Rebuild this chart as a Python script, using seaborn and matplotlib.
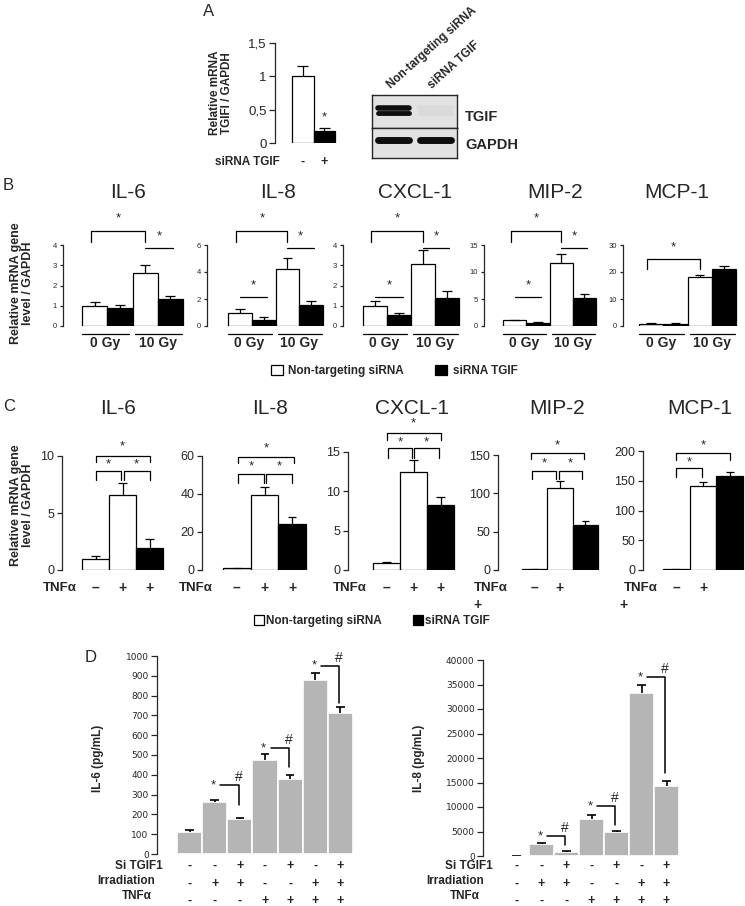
import numpy as np
import pandas as pd
import matplotlib
matplotlib.use("Agg")
import matplotlib.pyplot as plt
import seaborn as sns
from matplotlib import transforms
from matplotlib.patches import Patch

# ---------------- data ----------------
# Panel A
a_conditions = ["Non-targeting siRNA", "siRNA TGIF"]
a_signs = ["-", "+"]
a_values = [1.0, 0.18]
a_errors = [0.15, 0.05]
a_star_value = 0.39
a_yticks = [0, 0.5, 1.0, 1.5]
a_yticklabels = ["0", "0,5", "1", "1,5"]
blot_lanes = ["Non-targeting siRNA", "siRNA TGIF"]
blot_tgif = [1.0, 0.03]
blot_gapdh = [1.0, 1.0]

# Panel B (irradiation)
b_genes = ["IL-6", "IL-8", "CXCL-1", "MIP-2", "MCP-1"]
b_conditions = ["0 Gy / NT", "0 Gy / siTGIF", "10 Gy / NT", "10 Gy / siTGIF"]
b_doses = ["0 Gy", "10 Gy"]
b_il6 = [1.0, 0.9, 2.6, 1.35]
b_il6_err = [0.2, 0.12, 0.42, 0.12]
b_il8 = [0.95, 0.42, 4.25, 1.58]
b_il8_err = [0.3, 0.25, 0.8, 0.27]
b_cxcl1 = [1.0, 0.53, 3.04, 1.36]
b_cxcl1_err = [0.24, 0.12, 0.71, 0.36]
b_mip2 = [1.05, 0.62, 11.7, 5.15]
b_mip2_err = [0.1, 0.05, 1.6, 0.85]
b_mcp1 = [0.75, 0.8, 18.2, 21.2]
b_mcp1_err = [0.35, 0.2, 0.6, 1.0]
b_yticks = [[0, 1, 2, 3, 4], [0, 2, 4, 6], [0, 1, 2, 3, 4], [0, 5, 10, 15], [0, 10, 20, 30]]

# Panel C (TNFα)
c_genes = ["IL-6", "IL-8", "CXCL-1", "MIP-2", "MCP-1"]
c_conditions = ["TNFα- / NT", "TNFα+ / NT", "TNFα+ / siTGIF"]
c_tnf = ["–", "+", "+"]
c_il6 = [0.95, 6.6, 1.9]
c_il6_err = [0.3, 1.05, 0.8]
c_il8 = [1.0, 39.5, 24.2]
c_il8_err = [0.2, 4.2, 3.5]
c_cxcl1 = [0.9, 12.4, 8.3]
c_cxcl1_err = [0.15, 1.6, 1.0]
c_mip2 = [1.0, 106.5, 58.5]
c_mip2_err = [0.3, 9.5, 5.6]
c_mcp1 = [1.0, 142, 158]
c_mcp1_err = [0.5, 6, 7]
c_yticks = [[0, 5, 10], [0, 20, 40, 60], [0, 5, 10, 15], [0, 50, 100, 150], [0, 50, 100, 150, 200]]

# Panel D (secreted cytokines)
d_conditions = ["c1", "c2", "c3", "c4", "c5", "c6", "c7"]
d_si = ["-", "-", "+", "-", "+", "-", "+"]
d_irr = ["-", "+", "+", "-", "-", "+", "+"]
d_tnf = ["-", "-", "-", "+", "+", "+", "+"]
d_row_names = ["Si TGIF1", "Irradiation", "TNFα"]
d_il6 = [110, 265, 175, 475, 380, 880, 713]
d_il6_err = [12, 9, 8, 32, 19, 36, 27]
d_il8 = [0, 2400, 800, 7500, 4800, 33300, 14300]
d_il8_err = [0, 300, 300, 900, 250, 1600, 1000]
d_il6_yticks = list(range(0, 1001, 100))
d_il8_yticks = list(range(0, 40001, 5000))
d_pairs = [(1, 2), (3, 4), (5, 6)]
d_il6_line = [348, 535, 950]
d_il6_drop = [247, 440, 763]
d_il8_line = [4080, 10200, 36500]
d_il8_drop = [2250, 6350, 16900]

# ---------------- style ----------------
sns.set_style("ticks")
plt.rcParams["font.family"] = ["Liberation Sans", "DejaVu Sans"]
plt.rcParams["axes.unicode_minus"] = False

W, H = 745, 906
fig = plt.figure(figsize=(W / 100, H / 100), dpi=100)
fig.patch.set_facecolor("white")


def fx(x):
    return x / W


def fy(y):
    return 1 - y / H


def ftext(x, y, s, **kw):
    fig.text(fx(x), fy(y), s, **kw)


def make_axes(spine_x, bar_l, bar_r, n, y_top, y_bot, ymax, right_pad=0.15):
    unit = (bar_r - bar_l) / n
    ax = fig.add_axes([fx(spine_x), fy(y_bot), (bar_r + right_pad * unit - spine_x) / W,
                       (y_bot - y_top) / H])
    xlim = (-0.5 - (bar_l - spine_x) / unit, n - 0.5 + right_pad)
    return ax, xlim, (0, ymax)


def draw_bars(ax, conds, vals, errs, colors, edge, lw, cap, xlim, ylim, elw=0.9):
    df = pd.DataFrame({"condition": conds, "value": vals})
    sns.barplot(data=df, x="condition", y="value", hue="condition", order=conds,
                hue_order=conds, palette=dict(zip(conds, colors)), width=1.0,
                edgecolor=edge, linewidth=lw, errorbar=None, legend=False,
                saturation=1, ax=ax)
    x = np.arange(len(vals))
    v = np.asarray(vals, float)
    e = np.asarray(errs, float)
    ax.vlines(x, v, v + e, colors="black", linewidth=elw, zorder=3)
    ax.hlines(v + e, x - cap, x + cap, colors="black", linewidth=elw, zorder=3)
    ax.set_xlim(*xlim)
    ax.set_ylim(*ylim)


def style_ax(ax, yticks, labels=None, size=6, length=3, family=None):
    for s in ["top", "right", "bottom"]:
        ax.spines[s].set_visible(False)
    ax.spines["left"].set_linewidth(0.9)
    ax.set_xticks([])
    ax.set_xlabel("")
    ax.set_ylabel("")
    ax.set_yticks(yticks)
    lab = labels if labels is not None else [str(t) for t in yticks]
    kw = {"fontsize": size}
    if family:
        kw["family"] = family
    ax.set_yticklabels(lab, **kw)
    ax.tick_params(axis="y", direction="out", length=length, width=0.9, pad=2)
    ax.set_facecolor("none")


def bracket(ax, spec, star_fs=9.5):
    x0, x1, top, leg, star = spec
    tr = transforms.blended_transform_factory(ax.transData, ax.transAxes)
    ax.plot([x0, x0, x1, x1], [leg, top, top, leg], color="black", lw=0.9,
            transform=tr, clip_on=False)
    ax.text((x0 + x1) / 2, star, "*", transform=tr, ha="center", va="center",
            fontsize=star_fs)


def sig_line(ax, spec, star_fs=9.5):
    x0, x1, y, star = spec
    tr = transforms.blended_transform_factory(ax.transData, ax.transAxes)
    ax.plot([x0, x1], [y, y], color="black", lw=0.9, transform=tr, clip_on=False)
    ax.text((x0 + x1) / 2, star, "*", transform=tr, ha="center", va="center",
            fontsize=star_fs)


# ---------------- Panel A ----------------
ftext(209, 11, "A", fontsize=12, ha="center", va="center")
ax, xl, yl = make_axes(275, 292, 335, 2, 43, 143, 1.5)
draw_bars(ax, a_conditions, a_values, a_errors, ["white", "black"], "black", 0.9, 0.25, xl, yl)
style_ax(ax, a_yticks, a_yticklabels, size=9.5, length=4)
ax.text(1, a_star_value, "*", ha="center", va="center", fontsize=9.5)
ftext(221, 93, "Relative mRNA\nTGIFI / GAPDH", rotation=90, ha="center", va="center",
      fontsize=8.5, weight="bold", multialignment="center", linespacing=1.05)
ftext(280, 162, "siRNA TGIF", ha="right", va="center", fontsize=8.5, weight="bold")
trA = transforms.blended_transform_factory(ax.transData, fig.transFigure)
for i, s in enumerate(a_signs):
    ax.text(i, fy(162), s, transform=trA, ha="center", va="center", fontsize=9, weight="bold")

# western blot
for (ytop, ybot, intens, rows) in [(95, 128, blot_tgif, [(0.62, 4.0), (0.46, 3.5)]),
                                   (128, 158, blot_gapdh, [(0.6, 5.0)])]:
    bax = fig.add_axes([fx(372), fy(ybot), (457 - 372) / W, (ybot - ytop) / H])
    bax.set_xlim(-0.5, 1.5)
    bax.set_ylim(0, 1)
    bax.set_facecolor("#e2e2e2")
    for i, val in enumerate(intens):
        g = 0.88 * (1 - val) + 0.06 * val
        for yy, lw in rows:
            bax.plot([i - 0.36, i + 0.36], [yy, yy], color=(g, g, g), lw=lw,
                     solid_capstyle="round")
    bax.set_xticks([])
    bax.set_yticks([])
    for s in bax.spines.values():
        s.set_linewidth(1.0)
        s.set_visible(True)
ftext(393, 91, blot_lanes[0], rotation=42, ha="left", va="bottom", rotation_mode="anchor",
      fontsize=8.5, weight="bold")
ftext(434, 91, blot_lanes[1], rotation=42, ha="left", va="bottom", rotation_mode="anchor",
      fontsize=8.5, weight="bold")
ftext(465, 117, "TGIF", ha="left", va="center", fontsize=10.5, weight="bold")
ftext(465, 145, "GAPDH", ha="left", va="center", fontsize=10.5, weight="bold")

# ---------------- Panel B ----------------
ftext(8, 186, "B", fontsize=12, ha="center", va="center")
ftext(22, 283, "Relative mRNA gene\nlevel / GAPDH", rotation=90, ha="center", va="center",
      fontsize=9, weight="bold", multialignment="center", linespacing=1.05)
b_vals = [b_il6, b_il8, b_cxcl1, b_mip2, b_mcp1]
b_errs = [b_il6_err, b_il8_err, b_cxcl1_err, b_mip2_err, b_mcp1_err]
b_spine = [63, 207, 343, 484, 623]
b_barl = [82, 228, 363, 503, 639]
b_barr = [183, 323, 459, 596, 736]
b_title_x = [128, 278, 415, 555, 677]
big_std = (-0.15, 2.0, 1.173, 1.037, 1.333)
line10 = (2.0, 3.1, 0.963, 1.111)
line0 = (0.0, 1.15, 0.358, 0.506)
b_big = [big_std, big_std, big_std, big_std, (-0.15, 2.0, 0.827, 0.704, 0.975)]
b_lines = [[line10], [line10, line0], [line10, line0], [line10, line0], []]
for k in range(5):
    ax, xl, yl = make_axes(b_spine[k], b_barl[k], b_barr[k], 4, 245, 326, b_yticks[k][-1])
    draw_bars(ax, b_conditions, b_vals[k], b_errs[k], ["white", "black", "white", "black"],
              "black", 0.9, 0.2, xl, yl)
    style_ax(ax, b_yticks[k], size=5.5, length=2.5)
    bracket(ax, b_big[k])
    for spec in b_lines[k]:
        sig_line(ax, spec)
    tr = transforms.blended_transform_factory(ax.transData, ax.transAxes)
    for (x0, x1), xc, lab in zip([(-0.5, 1.35), (1.6, 3.45)], [0.4, 2.5], b_doses):
        ax.plot([x0, x1], [-0.099, -0.099], color="black", lw=0.9, transform=tr, clip_on=False)
        ax.text(xc, -0.215, lab, transform=tr, ha="center", va="center", fontsize=10,
                weight="bold")
    ftext(b_title_x[k], 193, b_genes[k], ha="center", va="center", fontsize=15)

fig.legend(handles=[Patch(facecolor="white", edgecolor="black", lw=0.9, label="Non-targeting siRNA"),
                    Patch(facecolor="black", edgecolor="black", lw=0.9, label="siRNA TGIF")],
           loc="center", bbox_to_anchor=(fx(394), fy(371)), ncol=2, frameon=False,
           handlelength=1.0, handleheight=1.0, handletextpad=0.5, columnspacing=2.6,
           prop={"weight": "bold", "size": 8.5}, borderpad=0, borderaxespad=0)

# ---------------- Panel C ----------------
ftext(9, 406, "C", fontsize=12, ha="center", va="center")
ftext(22, 505, "Relative mRNA gene\nlevel / GAPDH", rotation=90, ha="center", va="center",
      fontsize=9, weight="bold", multialignment="center", linespacing=1.05)
c_vals = [c_il6, c_il8, c_cxcl1, c_mip2, c_mcp1]
c_errs = [c_il6_err, c_il8_err, c_cxcl1_err, c_mip2_err, c_mcp1_err]
c_spine = [62, 202, 348, 498, 643]
c_barl = [82, 223, 373, 522, 663]
c_barr = [163, 306, 454, 598, 743]
c_top = [456, 456, 452, 455, 451]
c_title_x = [118, 270, 412, 557, 700]
c_tnf_right = [77, 213, 367, 508, 658]
c_wrap_x = [None, None, None, 478, 624]
c_big = [(0.0, 2.0, 1.0, 0.947, 1.088),
         (0.05, 2.05, 0.991, 0.939, 1.07),
         (0.0, 2.0, 1.161, 1.102, 1.246),
         (-0.15, 1.95, 1.017, 0.965, 1.087),
         (0.0, 2.0, 0.983, 0.924, 1.05)]
c_small = [[(0.0, 0.95, 0.868, 0.789, 0.93), (1.05, 2.0, 0.868, 0.789, 0.93)],
           [(0.05, 0.97, 0.842, 0.763, 0.912), (1.07, 2.0, 0.842, 0.763, 0.912)],
           [(0.05, 0.95, 1.034, 0.949, 1.085), (1.03, 1.95, 1.034, 0.949, 1.085)],
           [(-0.1, 0.85, 0.861, 0.791, 0.93), (0.95, 1.88, 0.861, 0.791, 0.93)],
           [(0.0, 0.96, 0.857, 0.782, 0.908)]]
for k in range(5):
    ax, xl, yl = make_axes(c_spine[k], c_barl[k], c_barr[k], 3, c_top[k], 570, c_yticks[k][-1])
    draw_bars(ax, c_conditions, c_vals[k], c_errs[k], ["white", "white", "black"],
              "black", 0.9, 0.15, xl, yl)
    style_ax(ax, c_yticks[k], size=9, length=3.5)
    bracket(ax, c_big[k])
    for spec in c_small[k]:
        bracket(ax, spec)
    ftext(c_title_x[k], 408, c_genes[k], ha="center", va="center", fontsize=15)
    ftext(c_tnf_right[k], 588, "TNFα", ha="right", va="center", fontsize=9.5, weight="bold")
    tr = transforms.blended_transform_factory(ax.transData, fig.transFigure)
    for j, s in enumerate(c_tnf):
        if j == 2 and c_wrap_x[k] is not None:
            ftext(c_wrap_x[k], 605, s, ha="center", va="center", fontsize=10, weight="bold")
        else:
            ax.text(j, fy(588), s, transform=tr, ha="center", va="center", fontsize=10,
                    weight="bold")

fig.legend(handles=[Patch(facecolor="white", edgecolor="black", lw=0.9, label="Non-targeting siRNA"),
                    Patch(facecolor="black", edgecolor="black", lw=0.9, label="siRNA TGIF")],
           loc="center", bbox_to_anchor=(fx(372), fy(621)), ncol=2, frameon=False,
           handlelength=0.85, handleheight=1.0, handletextpad=0.15, columnspacing=2.7,
           prop={"weight": "bold", "size": 8.5}, borderpad=0, borderaxespad=0)

# ---------------- Panel D ----------------
ftext(91, 657, "D", fontsize=12, ha="center", va="center")
gray = "#b5b5b5"
d_specs = [
    dict(spine=157, bl=177, br=353, top=656, bot=854, ymax=1000, vals=d_il6, errs=d_il6_err,
         ticks=d_il6_yticks, line=d_il6_line, drop=d_il6_drop, ylab="IL-6 (pg/mL)", ylab_x=98,
         row_right=[163, 155, 152]),
    dict(spine=483, bl=504, br=679, top=660, bot=856, ymax=40000, vals=d_il8, errs=d_il8_err,
         ticks=d_il8_yticks, line=d_il8_line, drop=d_il8_drop, ylab="IL-8 (pg/mL)", ylab_x=419,
         row_right=[493, 484, 480]),
]
row_label_y = [866, 881, 896]
row_sign_y = [866, 884, 901]
for sp in d_specs:
    ax, xl, yl = make_axes(sp["spine"], sp["bl"], sp["br"], 7, sp["top"], sp["bot"], sp["ymax"])
    draw_bars(ax, d_conditions, sp["vals"], sp["errs"], [gray] * 7, "white", 1.2, 0.17, xl, yl,
              elw=1.2)
    style_ax(ax, sp["ticks"], size=6.5, length=4, family="DejaVu Sans")
    for (i, j), ly, dy in zip(d_pairs, sp["line"], sp["drop"]):
        ax.plot([i + 0.22, j - 0.05, j - 0.05], [ly, ly, dy], color="black", lw=1.1,
                clip_on=False)
        ax.annotate("*", xy=(i - 0.05, ly), xytext=(0, 0), textcoords="offset points",
                    ha="center", va="center", fontsize=9.5)
        ax.annotate("#", xy=(j - 0.05, ly), xytext=(0, 6), textcoords="offset points",
                    ha="center", va="center", fontsize=10)
    ftext(sp["ylab_x"], 758, sp["ylab"], rotation=90, ha="center", va="center",
          fontsize=8.5, weight="bold")
    tr = transforms.blended_transform_factory(ax.transData, fig.transFigure)
    for r, (name, signs) in enumerate(zip(d_row_names, [d_si, d_irr, d_tnf])):
        ftext(sp["row_right"][r], row_label_y[r], name, ha="right", va="center",
              fontsize=8.5, weight="bold")
        for i, s in enumerate(signs):
            ax.text(i, fy(row_sign_y[r]), s, transform=tr, ha="center", va="center",
                    fontsize=9, weight="bold")

fig.savefig("out.png", dpi=100, facecolor="white")
